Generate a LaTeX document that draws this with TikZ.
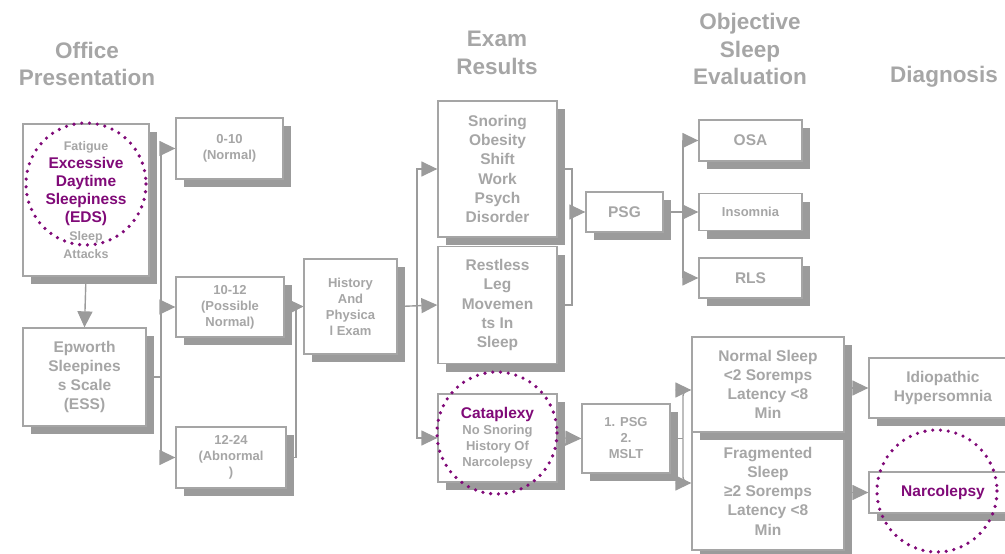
\documentclass[tikz,border=0pt]{standalone}
\usepackage{fontspec}
\setmainfont{Liberation Sans}
\usetikzlibrary{arrows.meta,shadows}
\pgfdeclarelayer{bg}
\pgfsetlayers{bg,main}
\definecolor{tgray}{HTML}{A6A6A6}
\definecolor{lgray}{HTML}{9B9B9B}
\definecolor{bgray}{HTML}{A5A5A5}
\definecolor{purp}{HTML}{800A78}
\newcommand{\bigf}{\bfseries\fontsize{15.5}{19.2}\selectfont}
\newcommand{\smallf}{\bfseries\fontsize{13}{16}\selectfont}
\tikzset{
  box/.style={draw=bgray, line width=1.3pt, fill=white, inner sep=0pt, align=center,
    text=tgray, font=\bigf,
    drop shadow={shadow xshift=8pt, shadow yshift=-8pt, fill=lgray, opacity=1}},
  sbox/.style={box, font=\smallf},
  hdr/.style={text=tgray, font=\bfseries\fontsize{22.5}{27.5}\selectfont, align=center, inner sep=0pt},
  conn/.style={draw=lgray, line width=1.4pt},
  arr/.style={conn, -{Triangle[length=16pt,width=15pt]}},
  ring/.style={draw=purp, line width=3.6pt, line cap=round, dash pattern=on 0pt off 7.8pt},
  pt/.style={text=purp}
}
\begin{document}
\begin{tikzpicture}[x=1pt,y=-1pt]
\useasboundingbox (0,0) rectangle (1005,554);
\clip (0,0) rectangle (1005,554);

% headers
\node[hdr] (h1) at (87,64) {Office\\Presentation};
\node[hdr] (h2) at (497,53) {Exam\\Results};
\node[hdr] (h3) at (750,49) {Objective\\Sleep\\Evaluation};
\node[hdr] (h4) at (944,77) {Diagnosis};

% boxes
\node[box, minimum width=126pt, minimum height=152pt, font=\bfseries\fontsize{15.5}{18}\selectfont] (eds) at (86,200)
  {{\fontsize{12.5}{16}\selectfont Fatigue}\\
   \textcolor{purp}{Excessive}\\ \textcolor{purp}{Daytime}\\ \textcolor{purp}{Sleepiness}\\ \textcolor{purp}{(EDS)}\\
   {\fontsize{12.5}{16}\selectfont Sleep}\\ {\fontsize{12.5}{16}\selectfont Attacks}};
\node[box, minimum width=123pt, minimum height=98pt] (ess) at (84.5,377) {Epworth\\Sleepines\\s Scale\\(ESS)};
\node[sbox, minimum width=107pt, minimum height=61pt] (s010) at (229.5,148.5) {0-10\\(Normal)};
\node[sbox, minimum width=108pt, minimum height=60pt] (s1012) at (230,307) {10-12\\(Possible\\Normal)};
\node[sbox, minimum width=110pt, minimum height=61pt] (s1224) at (231,457.5) {12-24\\(Abnormal\\)};
\node[sbox, minimum width=93pt, minimum height=95pt] (hist) at (350.5,306.5) {History\\And\\Physica\\l Exam};
\node[box, minimum width=119pt, minimum height=136pt] (snor) at (497.5,169) {Snoring\\Obesity\\Shift\\Work\\Psych\\Disorder};
\node[box, minimum width=119pt, minimum height=117pt] (rest) at (497.5,305) {Restless\\Leg\\Movemen\\ts In\\Sleep};
\node[sbox, minimum width=119pt, minimum height=88pt] (cata) at (497.5,438)
  {{\bigf\textcolor{purp}{Cataplexy}}\\No Snoring\\History Of\\Narcolepsy};
\node[box, minimum width=77pt, minimum height=40pt] (psg) at (624.5,212) {PSG};
\node[box, minimum width=103pt, minimum height=41pt] (osa) at (750.5,140.5) {OSA};
\node[sbox, minimum width=103pt, minimum height=37pt] (ins) at (750.5,212) {Insomnia};
\node[box, minimum width=103pt, minimum height=40pt] (rls) at (750.5,278) {RLS};
\node[sbox, minimum width=88pt, minimum height=69pt] (mslt) at (626,438.5) {1. PSG\\2.\\MSLT};
\node[box, minimum width=152pt, minimum height=118pt] (frag) at (768,491) {Fragmented\\Sleep\\≥2 Soremps\\Latency <8\\Min};
\node[box, minimum width=152pt, minimum height=95pt] (norm) at (768,384.5) {Normal Sleep\\<2 Soremps\\Latency <8\\Min};
\node[box, minimum width=148pt, minimum height=60pt] (idio) at (943,388) {Idiopathic\\Hypersomnia};
\node[box, minimum width=148pt, minimum height=41pt] (narc) at (943,492.5) {\textcolor{purp}{Narcolepsy}};

% junction points
\coordinate (essj) at (161,377);
\coordinate (hj) at (296,306.5);
\coordinate (hj2) at (417,306);
\coordinate (pj) at (572,212);
\coordinate (pj2) at (683,212);
\coordinate (mj) at (683,438.5);

\begin{pgfonlayer}{bg}
  \draw[arr] (eds.south) -- (ess.north);
  \draw[conn] (ess.east) -- (essj);
  \draw[arr] (essj) |- (s010.west);
  \draw[arr] (essj) |- (s1012.west);
  \draw[arr] (essj) |- (s1224.west);
  \draw[arr] (s1012.east) -- (hist.west);
  \draw[arr] (s1224.east) -| (hj) -- (hist.west);
  \draw[arr] (hist.east) -- (rest.west);
  \draw[arr] (hj2) |- (snor.west);
  \draw[arr] (hj2) |- (cata.west);
  \draw[conn] (snor.east) -| (pj);
  \draw[conn] (rest.east) -| (pj);
  \draw[arr] (pj) -- (psg.west);
  \draw[arr] (psg.east) -- (ins.west);
  \draw[arr] (pj2) |- (osa.west);
  \draw[arr] (pj2) |- (rls.west);
  \draw[arr] (cata.east) -- (mslt.west);
  \draw[conn] (mslt.east) -- (mj);
  \draw[arr, rounded corners=6pt] (mj) |- ([yshift=-5.5pt]norm.west);
  \draw[arr, rounded corners=6pt] (mj) |- ([yshift=8pt]frag.west);
  \draw[arr] ([yshift=-3.5pt]norm.east) -- (idio.west);
  \draw[arr] ([yshift=-1.5pt]frag.east) -- (narc.west);
\end{pgfonlayer}

% dotted highlight rings
\draw[ring] (86,184) ellipse [x radius=60, y radius=61];
\draw[ring] (497,433) ellipse [x radius=60, y radius=61];
\draw[ring] (937,491) ellipse [x radius=60, y radius=61];
\end{tikzpicture}
\end{document}
